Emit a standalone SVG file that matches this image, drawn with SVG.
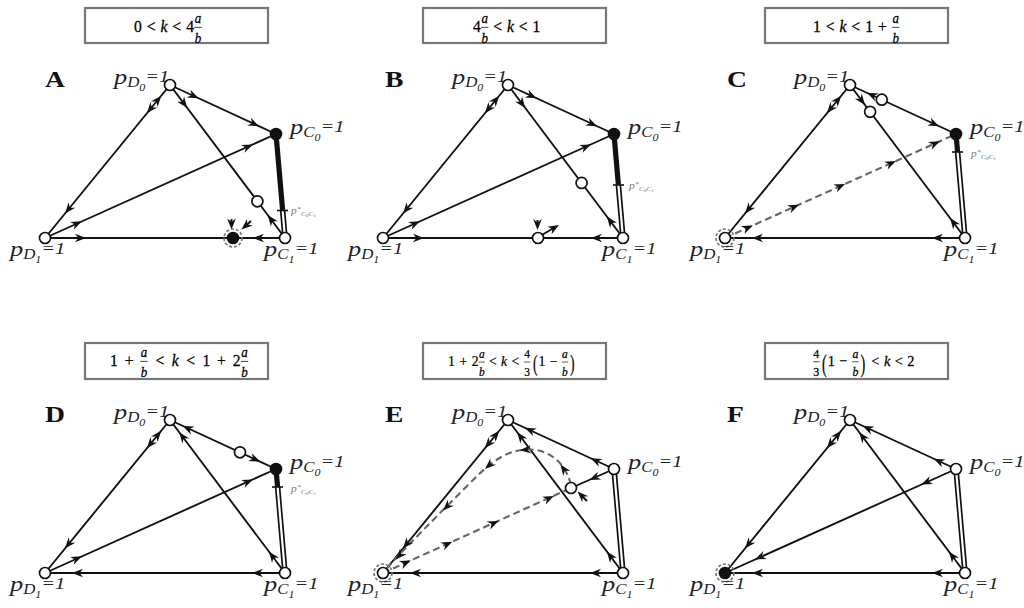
<svg xmlns="http://www.w3.org/2000/svg" width="1024" height="608" viewBox="0 0 1024 608">
<style>
.e{stroke:#111;stroke-width:1.9;fill:none}
.dl{stroke:#666;stroke-width:2.1;stroke-dasharray:7 4;fill:none}
.dbo{stroke:#111;stroke-width:5.6;fill:none}
.dbi{stroke:#fff;stroke-width:2.2;fill:none}
.thk{stroke:#111;stroke-width:5.2;fill:none}
.tk{stroke:#111;stroke-width:1.6}
.nd{fill:#fff;stroke:#111;stroke-width:1.7}
.nf{fill:#111;stroke:#111;stroke-width:1.7}
.ring{fill:none;stroke:#777;stroke-width:1.7;stroke-dasharray:3 2}
.box{fill:#fff;stroke:#777;stroke-width:2.2}
.lab{font-family:"Liberation Serif",serif;font-style:italic;fill:#222}
.ps{font-family:"Liberation Serif",serif;font-style:italic;fill:#777}
.m{font-family:"Liberation Serif",serif;font-size:12px;fill:#000;stroke:#000;stroke-width:0.2}
.i{font-style:italic}
.fr{font-size:10px}
.pr{font-size:20px}
.bar{stroke:#1a1a1a;stroke-width:0.6}
.pl{font-family:"Liberation Serif",serif;font-weight:bold;font-size:24px;fill:#111}
</style>
<defs>
<path id="ah" d="M0,0 L-11,-4.3 L-7.6,0 L-11,4.3 Z" fill="#111"/>
</defs>
<rect width="1024" height="608" fill="#fff"/>

<!-- ================= PANEL A ================= -->
<g id="panel-A">
 <g id="A-title">
  <rect class="box" x="85" y="8" width="183" height="35"/>
  <g transform="translate(134,32) scale(1.3,1.4)">
   <text class="m" x="0">0</text><text class="m" x="9.8">&lt;</text><text class="m i" x="20.4">k</text><text class="m" x="29.5">&lt;</text><text class="m" x="40.1">4</text>
   <text class="m i fr" x="49.2" y="-6.5" text-anchor="middle">a</text><line class="bar" x1="46.4" x2="52" y1="-3.3" y2="-3.3"/><text class="m i fr" x="49.2" y="8" text-anchor="middle">b</text>
  </g>
 </g>
 <text class="pl" transform="translate(45,87) scale(1.15,1)">A</text>
 <g id="A-edges">
  <path class="e" d="M170,85 L276,134 M170,85 L45,238 M170,85 L285,238 M45,238 L276,134 M45,238 L285,238"/>
  <path class="thk" d="M276,134 L282.6,210"/>
  <path class="dbo" d="M282.6,210 L285,238"/><path class="dbi" d="M282.6,210 L285,238"/>
  <path class="tk" d="M277,210.5 L288,210.5"/>
  <g transform="translate(291,214) scale(1.2,1)"><text class="ps" font-size="9.5">p<tspan font-size="7" dy="-3.5">*</tspan><tspan font-size="6" dy="5.5">C</tspan><tspan font-size="4.5" dy="1">0</tspan><tspan font-size="6" dy="-1">C</tspan><tspan font-size="4.5" dy="1">1</tspan></text></g>
  <use href="#ah" transform="translate(198.62,98.23) rotate(24.81)"/>
  <use href="#ah" transform="translate(259.04,126.16) rotate(24.81)"/>
  <use href="#ah" transform="translate(161.25,95.71) rotate(-50.75)"/>
  <use href="#ah" transform="translate(146.9,113.3) rotate(129.25)"/>
  <use href="#ah" transform="translate(65,213.52) rotate(129.25)"/>
  <use href="#ah" transform="translate(187.25,107.95) rotate(53.07)"/>
  <use href="#ah" transform="translate(267.75,215.05) rotate(233.07)"/>
  <use href="#ah" transform="translate(81.96,221.36) rotate(-24.24)"/>
  <use href="#ah" transform="translate(252.9,144.4) rotate(-24.24)"/>
  <use href="#ah" transform="translate(86,238) rotate(0)"/>
  <use href="#ah" transform="translate(253,238) rotate(180)"/>
  <path class="e" d="M231.5,219 L231.5,225 M251,221 L246,225.5" stroke-width="1.2"/>
  <use href="#ah" transform="translate(231.5,229.5) rotate(90)"/>
  <use href="#ah" transform="translate(241.5,229.5) rotate(139)"/>
 </g>
 <g id="A-D0"><circle class="nd" cx="170" cy="85" r="5.5"/><g transform="translate(114,84) scale(1.2,1)"><text class="lab"><tspan font-size="22">p</tspan><tspan font-size="14" dy="3">D</tspan><tspan font-size="10" dy="3.5">0</tspan><tspan font-size="17" dy="-8.5">=1</tspan></text></g></g>
 <g id="A-C0"><circle class="nf" cx="276" cy="134" r="5.5"/><g transform="translate(290,134) scale(1.2,1)"><text class="lab"><tspan font-size="22">p</tspan><tspan font-size="14" dy="3">C</tspan><tspan font-size="10" dy="3.5">0</tspan><tspan font-size="17" dy="-8.5">=1</tspan></text></g></g>
 <g id="A-D1"><circle class="nd" cx="45" cy="238" r="5.5"/><g transform="translate(10,256) scale(1.2,1)"><text class="lab"><tspan font-size="22">p</tspan><tspan font-size="14" dy="3">D</tspan><tspan font-size="10" dy="3.5">1</tspan><tspan font-size="17" dy="-8.5">=1</tspan></text></g></g>
 <g id="A-C1"><circle class="nd" cx="285" cy="238" r="5.5"/><g transform="translate(264,256) scale(1.2,1)"><text class="lab"><tspan font-size="22">p</tspan><tspan font-size="14" dy="3">C</tspan><tspan font-size="10" dy="3.5">1</tspan><tspan font-size="17" dy="-8.5">=1</tspan></text></g></g>
 <g id="A-n1"><circle class="nd" cx="257.4" cy="201.3" r="5.5"/></g>
 <g id="A-n2"><circle class="ring" cx="233" cy="238" r="9"/><circle class="nf" cx="233" cy="238" r="5.5"/></g>
</g>

<!-- ================= PANEL B ================= -->
<g id="panel-B" transform="translate(338,0)">
 <g id="B-title">
  <rect class="box" x="85" y="8" width="183" height="35"/>
  <g transform="translate(135,32) scale(1.3,1.4)">
   <text class="m" x="0">4</text>
   <text class="m i fr" x="9" y="-6.5" text-anchor="middle">a</text><line class="bar" x1="6.2" x2="11.8" y1="-3.3" y2="-3.3"/><text class="m i fr" x="9" y="8" text-anchor="middle">b</text>
   <text class="m" x="15.5">&lt;</text><text class="m i" x="26.1">k</text><text class="m" x="35.2">&lt;</text><text class="m" x="45.8">1</text>
  </g>
 </g>
 <text class="pl" transform="translate(47,87) scale(1.15,1)">B</text>
 <g id="B-edges">
  <path class="e" d="M170,85 L276,134 M170,85 L45,238 M170,85 L285,238 M45,238 L276,134 M45,238 L285,238"/>
  <path class="thk" d="M276,134 L280.4,185"/>
  <path class="dbo" d="M280.4,185 L285,238"/><path class="dbi" d="M280.4,185 L285,238"/>
  <path class="tk" d="M275,185 L286,185"/>
  <g transform="translate(291,189) scale(1.2,1)"><text class="ps" font-size="9.5">p<tspan font-size="7" dy="-3.5">*</tspan><tspan font-size="6" dy="5.5">C</tspan><tspan font-size="4.5" dy="1">0</tspan><tspan font-size="6" dy="-1">C</tspan><tspan font-size="4.5" dy="1">1</tspan></text></g>
  <use href="#ah" transform="translate(198.62,98.23) rotate(24.81)"/>
  <use href="#ah" transform="translate(259.04,126.16) rotate(24.81)"/>
  <use href="#ah" transform="translate(161.25,95.71) rotate(-50.75)"/>
  <use href="#ah" transform="translate(146.9,113.3) rotate(129.25)"/>
  <use href="#ah" transform="translate(65,213.52) rotate(129.25)"/>
  <use href="#ah" transform="translate(187.25,107.95) rotate(53.07)"/>
  <use href="#ah" transform="translate(268.9,216.58) rotate(233.07)"/>
  <use href="#ah" transform="translate(81.96,221.36) rotate(-24.24)"/>
  <use href="#ah" transform="translate(252.9,144.4) rotate(-24.24)"/>
  <use href="#ah" transform="translate(86,238) rotate(0)"/>
  <use href="#ah" transform="translate(253,238) rotate(180)"/>
  <path class="e" d="M199.5,220 L199.5,225 M203,235.5 L217,227.2" stroke-width="1.2"/>
  <use href="#ah" transform="translate(199.5,230) rotate(90)"/>
  <use href="#ah" transform="translate(221,225) rotate(-30)"/>
 </g>
 <g id="B-D0"><circle class="nd" cx="170" cy="85" r="5.5"/><g transform="translate(114,84) scale(1.2,1)"><text class="lab"><tspan font-size="22">p</tspan><tspan font-size="14" dy="3">D</tspan><tspan font-size="10" dy="3.5">0</tspan><tspan font-size="17" dy="-8.5">=1</tspan></text></g></g>
 <g id="B-C0"><circle class="nf" cx="276" cy="134" r="5.5"/><g transform="translate(290,134) scale(1.2,1)"><text class="lab"><tspan font-size="22">p</tspan><tspan font-size="14" dy="3">C</tspan><tspan font-size="10" dy="3.5">0</tspan><tspan font-size="17" dy="-8.5">=1</tspan></text></g></g>
 <g id="B-D1"><circle class="nd" cx="45" cy="238" r="5.5"/><g transform="translate(10,256) scale(1.2,1)"><text class="lab"><tspan font-size="22">p</tspan><tspan font-size="14" dy="3">D</tspan><tspan font-size="10" dy="3.5">1</tspan><tspan font-size="17" dy="-8.5">=1</tspan></text></g></g>
 <g id="B-C1"><circle class="nd" cx="285" cy="238" r="5.5"/><g transform="translate(264,256) scale(1.2,1)"><text class="lab"><tspan font-size="22">p</tspan><tspan font-size="14" dy="3">C</tspan><tspan font-size="10" dy="3.5">1</tspan><tspan font-size="17" dy="-8.5">=1</tspan></text></g></g>
 <g id="B-n1"><circle class="nd" cx="243.6" cy="182.9" r="5.5"/></g>
 <g id="B-n2"><circle class="nd" cx="200" cy="238" r="5.5"/></g>
</g>

<!-- ================= PANEL C ================= -->
<g id="panel-C" transform="translate(680,0)">
 <g id="C-title">
  <rect class="box" x="85" y="8" width="183" height="35"/>
  <g transform="translate(133,32) scale(1.3,1.4)">
   <text class="m" x="0">1</text><text class="m" x="9.8">&lt;</text><text class="m i" x="20.4">k</text><text class="m" x="29.5">&lt;</text><text class="m" x="40.1">1</text><text class="m" x="50.1">+</text>
   <text class="m i fr" x="63.6" y="-6.5" text-anchor="middle">a</text><line class="bar" x1="60.8" x2="66.4" y1="-3.3" y2="-3.3"/><text class="m i fr" x="63.6" y="8" text-anchor="middle">b</text>
  </g>
 </g>
 <text class="pl" transform="translate(47,87) scale(1.15,1)">C</text>
 <g id="C-edges">
  <path class="e" d="M170,85 L276,134 M170,85 L45,238 M170,85 L285,238 M45,238 L285,238"/>
  <path class="dl" d="M45,238 L276,134"/>
  <path class="thk" d="M276,134 L277.6,152"/>
  <path class="dbo" d="M277.6,152 L285,238"/><path class="dbi" d="M277.6,152 L285,238"/>
  <path class="tk" d="M272,152 L283,152"/>
  <g transform="translate(291,157) scale(1.2,1)"><text class="ps" font-size="9.5">p<tspan font-size="7" dy="-3.5">*</tspan><tspan font-size="6" dy="5.5">C</tspan><tspan font-size="4.5" dy="1">0</tspan><tspan font-size="6" dy="-1">C</tspan><tspan font-size="4.5" dy="1">1</tspan></text></g>
  <use href="#ah" transform="translate(187,92.8) rotate(204.81)"/>
  <use href="#ah" transform="translate(259.04,126.16) rotate(24.81)"/>
  <use href="#ah" transform="translate(161.25,95.71) rotate(-50.75)"/>
  <use href="#ah" transform="translate(146.9,113.3) rotate(129.25)"/>
  <use href="#ah" transform="translate(65,213.52) rotate(129.25)"/>
  <use href="#ah" transform="translate(184.95,104.89) rotate(53.07)"/>
  <use href="#ah" transform="translate(270.05,218.11) rotate(233.07)"/>
  <use href="#ah" transform="translate(72.72,225.52) rotate(-24.24)"/>
  <use href="#ah" transform="translate(118.92,204.72) rotate(-24.24)"/>
  <use href="#ah" transform="translate(165.12,183.92) rotate(-24.24)"/>
  <use href="#ah" transform="translate(215.94,161.04) rotate(-24.24)"/>
  <use href="#ah" transform="translate(259.83,141.28) rotate(-24.24)"/>
  <use href="#ah" transform="translate(72,238) rotate(180)"/>
  <use href="#ah" transform="translate(252,238) rotate(180)"/>
 </g>
 <g id="C-D0"><circle class="nd" cx="170" cy="85" r="5.5"/><g transform="translate(114,84) scale(1.2,1)"><text class="lab"><tspan font-size="22">p</tspan><tspan font-size="14" dy="3">D</tspan><tspan font-size="10" dy="3.5">0</tspan><tspan font-size="17" dy="-8.5">=1</tspan></text></g></g>
 <g id="C-C0"><circle class="nf" cx="276" cy="134" r="5.5"/><g transform="translate(290,134) scale(1.2,1)"><text class="lab"><tspan font-size="22">p</tspan><tspan font-size="14" dy="3">C</tspan><tspan font-size="10" dy="3.5">0</tspan><tspan font-size="17" dy="-8.5">=1</tspan></text></g></g>
 <g id="C-D1"><circle class="ring" cx="45" cy="238" r="9"/><circle class="nd" cx="45" cy="238" r="5.5"/><g transform="translate(10,256) scale(1.2,1)"><text class="lab"><tspan font-size="22">p</tspan><tspan font-size="14" dy="3">D</tspan><tspan font-size="10" dy="3.5">1</tspan><tspan font-size="17" dy="-8.5">=1</tspan></text></g></g>
 <g id="C-C1"><circle class="nd" cx="285" cy="238" r="5.5"/><g transform="translate(264,256) scale(1.2,1)"><text class="lab"><tspan font-size="22">p</tspan><tspan font-size="14" dy="3">C</tspan><tspan font-size="10" dy="3.5">1</tspan><tspan font-size="17" dy="-8.5">=1</tspan></text></g></g>
 <g id="C-n1"><circle class="nd" cx="201.8" cy="99.7" r="5.5"/></g>
 <g id="C-n2"><circle class="nd" cx="190.1" cy="111.8" r="5.5"/></g>
</g>

<!-- ================= PANEL D ================= -->
<g id="panel-D" transform="translate(0,335)">
 <g id="D-title">
  <rect class="box" x="85" y="8" width="183" height="36"/>
  <g transform="translate(110,31) scale(1.3,1.4)">
   <text class="m" x="0">1</text><text class="m" x="11.3">+</text>
   <text class="m i fr" x="26.2" y="-6.5" text-anchor="middle">a</text><line class="bar" x1="23.4" x2="29" y1="-3.3" y2="-3.3"/><text class="m i fr" x="26.2" y="8" text-anchor="middle">b</text>
   <text class="m" x="35">&lt;</text><text class="m i" x="47.6">k</text><text class="m" x="58.7">&lt;</text><text class="m" x="71.2">1</text><text class="m" x="82.4">+</text><text class="m" x="94.4">2</text>
   <text class="m i fr" x="103.5" y="-6.5" text-anchor="middle">a</text><line class="bar" x1="100.7" x2="106.3" y1="-3.3" y2="-3.3"/><text class="m i fr" x="103.5" y="8" text-anchor="middle">b</text>
  </g>
 </g>
 <text class="pl" transform="translate(45,87) scale(1.15,1)">D</text>
 <g id="D-edges">
  <path class="e" d="M170,85 L276,134 M170,85 L45,238 M170,85 L285,238 M45,238 L276,134 M45,238 L285,238"/>
  <path class="thk" d="M276,134 L277.6,152"/>
  <path class="dbo" d="M277.6,152 L285,238"/><path class="dbi" d="M277.6,152 L285,238"/>
  <path class="tk" d="M272,152 L283,152"/>
  <g transform="translate(291,157) scale(1.2,1)"><text class="ps" font-size="9.5">p<tspan font-size="7" dy="-3.5">*</tspan><tspan font-size="6" dy="5.5">C</tspan><tspan font-size="4.5" dy="1">0</tspan><tspan font-size="6" dy="-1">C</tspan><tspan font-size="4.5" dy="1">1</tspan></text></g>
  <use href="#ah" transform="translate(182.72,90.88) rotate(204.81)"/>
  <use href="#ah" transform="translate(260.1,126.65) rotate(24.81)"/>
  <use href="#ah" transform="translate(161.25,95.71) rotate(-50.75)"/>
  <use href="#ah" transform="translate(146.9,113.3) rotate(129.25)"/>
  <use href="#ah" transform="translate(65,213.52) rotate(129.25)"/>
  <use href="#ah" transform="translate(179.2,97.24) rotate(233.07)"/>
  <use href="#ah" transform="translate(268.9,216.58) rotate(233.07)"/>
  <use href="#ah" transform="translate(81.96,221.36) rotate(-24.24)"/>
  <use href="#ah" transform="translate(252.9,144.4) rotate(-24.24)"/>
  <use href="#ah" transform="translate(72,238) rotate(180)"/>
  <use href="#ah" transform="translate(252,238) rotate(180)"/>
 </g>
 <g id="D-D0"><circle class="nd" cx="170" cy="85" r="5.5"/><g transform="translate(114,84) scale(1.2,1)"><text class="lab"><tspan font-size="22">p</tspan><tspan font-size="14" dy="3">D</tspan><tspan font-size="10" dy="3.5">0</tspan><tspan font-size="17" dy="-8.5">=1</tspan></text></g></g>
 <g id="D-C0"><circle class="nf" cx="276" cy="134" r="5.5"/><g transform="translate(290,134) scale(1.2,1)"><text class="lab"><tspan font-size="22">p</tspan><tspan font-size="14" dy="3">C</tspan><tspan font-size="10" dy="3.5">0</tspan><tspan font-size="17" dy="-8.5">=1</tspan></text></g></g>
 <g id="D-D1"><circle class="nd" cx="45" cy="238" r="5.5"/><g transform="translate(10,256) scale(1.2,1)"><text class="lab"><tspan font-size="22">p</tspan><tspan font-size="14" dy="3">D</tspan><tspan font-size="10" dy="3.5">1</tspan><tspan font-size="17" dy="-8.5">=1</tspan></text></g></g>
 <g id="D-C1"><circle class="nd" cx="285" cy="238" r="5.5"/><g transform="translate(264,256) scale(1.2,1)"><text class="lab"><tspan font-size="22">p</tspan><tspan font-size="14" dy="3">C</tspan><tspan font-size="10" dy="3.5">1</tspan><tspan font-size="17" dy="-8.5">=1</tspan></text></g></g>
 <g id="D-n1"><circle class="nd" cx="240" cy="117.3" r="5.5"/></g>
</g>

<!-- ================= PANEL E ================= -->
<g id="panel-E" transform="translate(338,335)">
 <g id="E-title">
  <rect class="box" x="85" y="8" width="183" height="36"/>
  <g transform="translate(110,31) scale(1.14,1.2)">
   <text class="m" x="0">1</text><text class="m" x="10">+</text><text class="m" x="20.8">2</text>
   <text class="m i fr" x="29.6" y="-6.5" text-anchor="middle">a</text><line class="bar" x1="26.8" x2="32.4" y1="-3.3" y2="-3.3"/><text class="m i fr" x="29.6" y="8" text-anchor="middle">b</text>
   <text class="m" x="36">&lt;</text><text class="m i" x="46.6">k</text><text class="m" x="55.7">&lt;</text>
   <text class="m fr" x="69.4" y="-6.5" text-anchor="middle">4</text><line class="bar" x1="66.6" x2="72.2" y1="-3.3" y2="-3.3"/><text class="m fr" x="69.4" y="8" text-anchor="middle">3</text>
   <text class="m pr" transform="translate(74.5,4.5) scale(0.6,1)">(</text>
   <text class="m" x="79.5">1</text><text class="m" x="89">−</text>
   <text class="m i fr" x="102.6" y="-6.5" text-anchor="middle">a</text><line class="bar" x1="99.8" x2="105.4" y1="-3.3" y2="-3.3"/><text class="m i fr" x="102.6" y="8" text-anchor="middle">b</text>
   <text class="m pr" transform="translate(107,4.5) scale(0.6,1)">)</text>
  </g>
 </g>
 <text class="pl" transform="translate(47,87) scale(1.15,1)">E</text>
 <g id="E-edges">
  <path class="e" d="M170,85 L276,134 M170,85 L45,238 M170,85 L285,238 M45,238 L285,238 M276,134 L233,153"/>
  <path class="dbo" d="M276,134 L285,238"/><path class="dbi" d="M276,134 L285,238"/>
  <path class="dl" d="M45,238 L233,153"/>
  <path class="dl" d="M233,150 C226,122 204,112 184,115 C162,118 148,132 128,152 C100,180 70,210 49,233"/>
  <use href="#ah" transform="translate(186.96,92.84) rotate(204.81)"/>
  <use href="#ah" transform="translate(252.68,123.22) rotate(204.81)"/>
  <use href="#ah" transform="translate(161.25,95.71) rotate(-50.75)"/>
  <use href="#ah" transform="translate(146.9,113.3) rotate(129.25)"/>
  <use href="#ah" transform="translate(65,213.52) rotate(129.25)"/>
  <use href="#ah" transform="translate(179.2,97.24) rotate(233.07)"/>
  <use href="#ah" transform="translate(268.9,216.58) rotate(233.07)"/>
  <use href="#ah" transform="translate(251.4,145) rotate(156.2)"/>
  <use href="#ah" transform="translate(72.72,225.52) rotate(-24.24)"/>
  <use href="#ah" transform="translate(114.3,206.8) rotate(-24.24)"/>
  <use href="#ah" transform="translate(160.5,186) rotate(-24.24)"/>
  <use href="#ah" transform="translate(215.94,161.04) rotate(-24.24)"/>
  <use href="#ah" transform="translate(222.5,129.5) rotate(-125)"/>
  <use href="#ah" transform="translate(182,115.3) rotate(175)"/>
  <use href="#ah" transform="translate(147,134) rotate(138)"/>
  <use href="#ah" transform="translate(105,175.5) rotate(135)"/>
  <use href="#ah" transform="translate(58,224.5) rotate(132)"/>
  <path class="e" d="M249,166 L243.5,160.5" stroke-width="1.2"/>
  <use href="#ah" transform="translate(239.5,156.5) rotate(-135)"/>
  <use href="#ah" transform="translate(72,238) rotate(180)"/>
  <use href="#ah" transform="translate(252,238) rotate(180)"/>
 </g>
 <g id="E-D0"><circle class="nd" cx="170" cy="85" r="5.5"/><g transform="translate(114,84) scale(1.2,1)"><text class="lab"><tspan font-size="22">p</tspan><tspan font-size="14" dy="3">D</tspan><tspan font-size="10" dy="3.5">0</tspan><tspan font-size="17" dy="-8.5">=1</tspan></text></g></g>
 <g id="E-C0"><circle class="nd" cx="276" cy="134" r="5.5"/><g transform="translate(290,134) scale(1.2,1)"><text class="lab"><tspan font-size="22">p</tspan><tspan font-size="14" dy="3">C</tspan><tspan font-size="10" dy="3.5">0</tspan><tspan font-size="17" dy="-8.5">=1</tspan></text></g></g>
 <g id="E-D1"><circle class="ring" cx="45" cy="238" r="9"/><circle class="nd" cx="45" cy="238" r="5.5"/><g transform="translate(10,256) scale(1.2,1)"><text class="lab"><tspan font-size="22">p</tspan><tspan font-size="14" dy="3">D</tspan><tspan font-size="10" dy="3.5">1</tspan><tspan font-size="17" dy="-8.5">=1</tspan></text></g></g>
 <g id="E-C1"><circle class="nd" cx="285" cy="238" r="5.5"/><g transform="translate(264,256) scale(1.2,1)"><text class="lab"><tspan font-size="22">p</tspan><tspan font-size="14" dy="3">C</tspan><tspan font-size="10" dy="3.5">1</tspan><tspan font-size="17" dy="-8.5">=1</tspan></text></g></g>
 <g id="E-n1"><circle class="nd" cx="233" cy="153" r="5.5"/></g>
</g>

<!-- ================= PANEL F ================= -->
<g id="panel-F" transform="translate(680,335)">
 <g id="F-title">
  <rect class="box" x="85" y="8" width="183" height="36"/>
  <g transform="translate(133,31) scale(1.19,1.28)">
   <text class="m fr" x="2.8" y="-6.5" text-anchor="middle">4</text><line class="bar" x1="0" x2="5.6" y1="-3.3" y2="-3.3"/><text class="m fr" x="2.8" y="8" text-anchor="middle">3</text>
   <text class="m pr" transform="translate(7.5,4.5) scale(0.6,1)">(</text>
   <text class="m" x="12.5">1</text><text class="m" x="22">−</text>
   <text class="m i fr" x="35.6" y="-6.5" text-anchor="middle">a</text><line class="bar" x1="32.8" x2="38.4" y1="-3.3" y2="-3.3"/><text class="m i fr" x="35.6" y="8" text-anchor="middle">b</text>
   <text class="m pr" transform="translate(40,4.5) scale(0.6,1)">)</text>
   <text class="m" x="49">&lt;</text><text class="m i" x="59.6">k</text><text class="m" x="68.7">&lt;</text><text class="m" x="79.3">2</text>
  </g>
 </g>
 <text class="pl" transform="translate(47,87) scale(1.15,1)">F</text>
 <g id="F-edges">
  <path class="e" d="M170,85 L276,134 M170,85 L45,238 M170,85 L285,238 M45,238 L276,134 M45,238 L285,238"/>
  <path class="dbo" d="M276,134 L285,238"/><path class="dbi" d="M276,134 L285,238"/>
  <use href="#ah" transform="translate(182.72,90.88) rotate(204.81)"/>
  <use href="#ah" transform="translate(253.74,123.71) rotate(204.81)"/>
  <use href="#ah" transform="translate(161.25,95.71) rotate(-50.75)"/>
  <use href="#ah" transform="translate(146.9,113.3) rotate(129.25)"/>
  <use href="#ah" transform="translate(65,213.52) rotate(129.25)"/>
  <use href="#ah" transform="translate(179.2,97.24) rotate(233.07)"/>
  <use href="#ah" transform="translate(268.9,216.58) rotate(233.07)"/>
  <use href="#ah" transform="translate(75.03,224.48) rotate(155.76)"/>
  <use href="#ah" transform="translate(241.35,149.6) rotate(155.76)"/>
  <use href="#ah" transform="translate(72,238) rotate(180)"/>
  <use href="#ah" transform="translate(252,238) rotate(180)"/>
 </g>
 <g id="F-D0"><circle class="nd" cx="170" cy="85" r="5.5"/><g transform="translate(114,84) scale(1.2,1)"><text class="lab"><tspan font-size="22">p</tspan><tspan font-size="14" dy="3">D</tspan><tspan font-size="10" dy="3.5">0</tspan><tspan font-size="17" dy="-8.5">=1</tspan></text></g></g>
 <g id="F-C0"><circle class="nd" cx="276" cy="134" r="5.5"/><g transform="translate(290,134) scale(1.2,1)"><text class="lab"><tspan font-size="22">p</tspan><tspan font-size="14" dy="3">C</tspan><tspan font-size="10" dy="3.5">0</tspan><tspan font-size="17" dy="-8.5">=1</tspan></text></g></g>
 <g id="F-D1"><circle class="ring" cx="45" cy="238" r="9"/><circle class="nf" cx="45" cy="238" r="5.5"/><g transform="translate(10,256) scale(1.2,1)"><text class="lab"><tspan font-size="22">p</tspan><tspan font-size="14" dy="3">D</tspan><tspan font-size="10" dy="3.5">1</tspan><tspan font-size="17" dy="-8.5">=1</tspan></text></g></g>
 <g id="F-C1"><circle class="nd" cx="285" cy="238" r="5.5"/><g transform="translate(264,256) scale(1.2,1)"><text class="lab"><tspan font-size="22">p</tspan><tspan font-size="14" dy="3">C</tspan><tspan font-size="10" dy="3.5">1</tspan><tspan font-size="17" dy="-8.5">=1</tspan></text></g></g>
</g>
</svg>
